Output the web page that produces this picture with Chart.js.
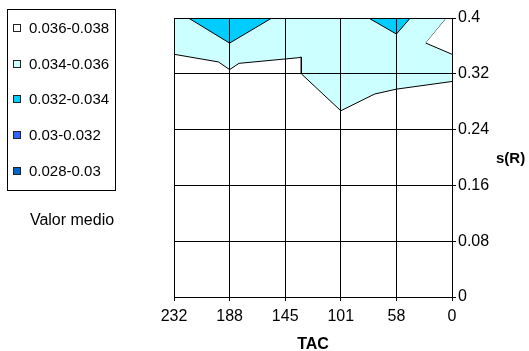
<!DOCTYPE html>
<html>
<head>
<meta charset="utf-8">
<script src="https://cdn.jsdelivr.net/npm/chart.js"></script>
<style>
  html, body { margin: 0; padding: 0; background: #fff; }
</style>
</head>
<body>
<canvas id="contour" width="529" height="351"></canvas>
<script>
// TAC categories, left to right (axis runs 232 -> 0)
const tacLabels = ['232', '188', '145', '101', '58', '0'];
const sRTicks = [0, 0.08, 0.16, 0.24, 0.32, 0.4];

// legend bands (Valor medio)
const bandLabels = ['0.036-0.038', '0.034-0.036', '0.032-0.034', '0.03-0.032', '0.028-0.03'];
const bandColors = ['#FFFFFF', '#CCFFFF', '#00CCFF', '#3366FF', '#0066CC'];

// contour lines as [TAC position (0 = 232 ... 5 = 0), s(R)]
const edge034 = [[0, 0.348], [0.8, 0.337], [1, 0.326], [1.17, 0.335], [2.23, 0.343],
                 [2.29, 0.344], [2.29, 0.320], [3, 0.267], [3.61, 0.291], [4, 0.298], [5, 0.309]];
const peak032a = [[0.26, 0.4], [1, 0.364], [1.76, 0.4]];
const peak032b = [[3.5, 0.4], [4, 0.377], [4.25, 0.4]];
const wedgeLow = [[4.53, 0.364], [5, 0.348]];
const wedgeHigh = [[4.53, 0.364], [4.9, 0.4], [5, 0.4]];

const pts = arr => arr.map(p => ({x: p[0], y: p[1]}));

function contourLine(data, fill, color, order) {
  return {
    data: pts(data),
    fill: fill,
    backgroundColor: color,
    borderColor: '#000',
    borderWidth: 1,
    pointRadius: 0,
    pointHoverRadius: 0,
    tension: 0,
    order: order
  };
}

// legend box, "Valor medio" and the s(R) label
const sideTexts = {
  id: 'sideTexts',
  afterDraw(chart) {
    const ctx = chart.ctx;
    const family = '"Liberation Sans", Arial, sans-serif';
    ctx.save();
    ctx.lineWidth = 1;
    ctx.strokeStyle = '#000';
    ctx.strokeRect(7.5, 9.5, 108, 181);

    ctx.font = '15px ' + family;
    ctx.textBaseline = 'middle';
    ctx.textAlign = 'left';
    bandLabels.forEach((lab, i) => {
      const y = Math.round(28 + i * 35.7);
      ctx.fillStyle = bandColors[i];
      ctx.fillRect(13.5, y - 3.5, 7, 7);
      ctx.strokeStyle = '#222';
      ctx.strokeRect(13.5, y - 3.5, 7, 7);
      ctx.fillStyle = '#000';
      ctx.fillText(lab, 29, y + 0.5);
    });

    ctx.font = '16px ' + family;
    ctx.textAlign = 'center';
    ctx.fillText('Valor medio', 72, 221);

    ctx.font = 'bold 15px ' + family;
    ctx.textAlign = 'left';
    ctx.fillText('s(R)', 496, 159);
    ctx.restore();
  }
};

Chart.defaults.font.family = '"Liberation Sans", Arial, sans-serif';
Chart.defaults.color = '#000';

new Chart(document.getElementById('contour').getContext('2d'), {
  type: 'line',
  data: {
    datasets: [
      contourLine(edge034, 'end', bandColors[1], 3),
      contourLine(peak032a, 'end', bandColors[2], 2),
      contourLine(peak032b, 'end', bandColors[2], 2),
      contourLine(wedgeLow, '+1', bandColors[0], 1),
      contourLine(wedgeHigh, false, bandColors[0], 1)
    ]
  },
  options: {
    responsive: false,
    animation: false,
    devicePixelRatio: 1,
    events: [],
    layout: { padding: { left: 174, top: 18, right: 0, bottom: 0 } },
    plugins: {
      legend: { display: false },
      tooltip: { enabled: false }
    },
    scales: {
      x: {
        type: 'linear',
        min: 0,
        max: 5,
        afterBuildTicks: s => { s.ticks = tacLabels.map((t, i) => ({value: i})); },
        afterFit: s => { s.height = 54; },
        ticks: {
          font: { size: 16 },
          padding: 6,
          maxRotation: 0,
          callback: v => tacLabels[v]
        },
        grid: { color: '#000', lineWidth: 1, tickLength: 4, z: 1 },
        border: { color: '#000', z: 1 },
        title: {
          display: true,
          text: 'TAC',
          font: { size: 16, weight: 'bold', lineHeight: 1 },
          padding: { top: 0, bottom: -2 }
        }
      },
      y: {
        position: 'right',
        min: 0,
        max: 0.4,
        afterBuildTicks: s => { s.ticks = sRTicks.map(v => ({value: v})); },
        afterFit: s => { s.width = 77; },
        ticks: {
          font: { size: 16 },
          padding: 2,
          callback: v => String(v)
        },
        grid: { color: '#000', lineWidth: 1, tickLength: 4, z: 1 },
        border: { color: '#000', z: 1 }
      }
    }
  },
  plugins: [sideTexts]
});
</script>
</body>
</html>
